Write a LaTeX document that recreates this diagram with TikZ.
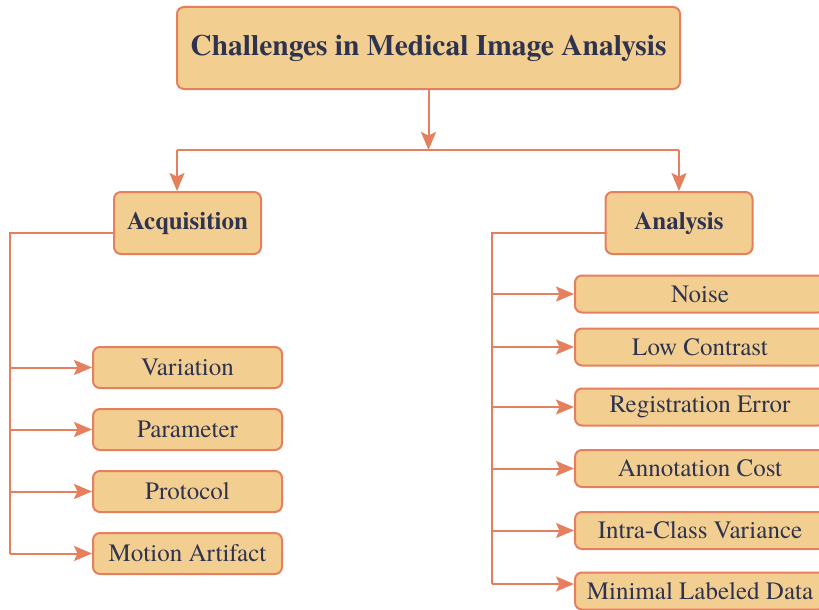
\documentclass[tikz,border=0pt]{standalone}
\usepackage{fontspec}
\setmainfont{texgyretermes}[Extension=.otf, UprightFont=*-regular, BoldFont=*-bold, ItalicFont=*-italic, BoldItalicFont=*-bolditalic]
\usetikzlibrary{arrows.meta}
\definecolor{boxfill}{HTML}{F2CE90}
\definecolor{boxline}{HTML}{E57F5E}
\definecolor{ink}{HTML}{2E3350}
\begin{document}
\begin{tikzpicture}[x=1pt,y=-1pt,
  box/.style={draw=boxline, line width=2pt, fill=boxfill, rounded corners=7pt,
    text=ink, inner sep=0pt, anchor=center},
  titlebox/.style={box, minimum width=503pt, minimum height=82pt, font=\rmfamily\bfseries\fontsize{29.5}{34}\selectfont},
  headbox/.style={box, minimum width=147pt, minimum height=62pt, font=\rmfamily\bfseries\fontsize{25}{29}\selectfont},
  leafl/.style={box, minimum width=189pt, minimum height=41pt, font=\rmfamily\fontsize{25}{29}\selectfont},
  leafr/.style={box, minimum width=250pt, minimum height=37pt, font=\rmfamily\fontsize{25}{29}\selectfont},
  wire/.style={draw=boxline, line width=2pt},
  arr/.style={wire, -{Stealth[length=18pt,width=15pt,inset=3.5pt]}}]
\useasboundingbox (0,0) rectangle (819,610);
\begin{scope}
\clip (0,0) rectangle (819,610);

% top box and the two main branches
\node[titlebox] (title) at (428.5,48) {Challenges in Medical Image Analysis};
\node[headbox] (acq) at (187.5,223) {Acquisition};
\node[headbox] (ana) at (679,223) {Analysis};

\coordinate (split) at (428.5,150);
\coordinate (ldrop) at (177,150);
\draw[arr] (title.south) -- (split);
\draw[wire] (ldrop) -- (split -| ana.north);
\draw[arr] (ldrop) -- (ldrop |- acq.north);
\draw[arr] (split -| ana.north) -- (ana.north);

% acquisition leaves
\node[leafl] (var) at (187.5,367.5) {Variation};
\node[leafl] (par) at (187.5,429.5) {Parameter};
\node[leafl] (pro) at (187.5,491.5) {Protocol};
\node[leafl] (mot) at (187.5,553.5) {Motion Artifact};

\coordinate (lspine) at (10,233);
\draw[wire] ([yshift=-10pt]acq.west) -- (lspine) -- (lspine |- mot.west);
\foreach \n in {var,par,pro,mot}
  \draw[arr] (lspine |- \n.west) -- (\n.west);

% analysis leaves
\node[leafr] (noi) at (700,294) {Noise};
\node[leafr] (low) at (700,347) {Low Contrast};
\node[leafr] (reg) at (700,407) {Registration Error};
\node[leafr] (ann) at (700,468.5) {Annotation Cost};
\node[leafr] (icv) at (700,530.5) {Intra-Class Variance};
\node[leafr] (mld) at (700,591) {Minimal Labeled Data};

\coordinate (rspine) at (491.5,233);
\coordinate (mldin) at ([yshift=7pt]mld.west);
\draw[wire] ([yshift=-10pt]ana.west) -- (rspine) -- (rspine |- mldin);
\foreach \n in {noi,low,reg,ann,icv}
  \draw[arr] (rspine |- \n.west) -- (\n.west);
\draw[arr] (rspine |- mldin) -- (mldin);
\end{scope}
\end{tikzpicture}
\end{document}
